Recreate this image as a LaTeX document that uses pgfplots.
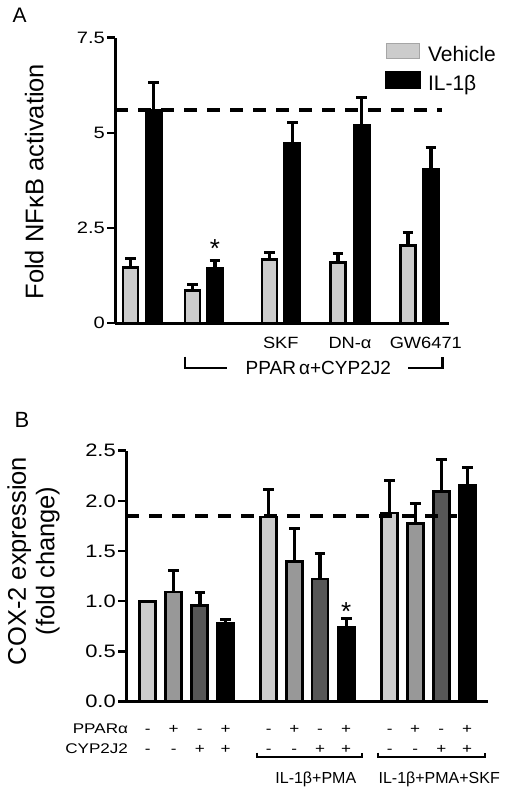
\documentclass[border=0pt]{standalone}
\usepackage{fontspec}
\setmainfont{Liberation Sans}
\newfontfamily\wa[FakeStretch=1.22]{Liberation Sans}
\newfontfamily\wb[FakeStretch=1.12]{Liberation Sans}
\usepackage{pgfplots}
\pgfplotsset{compat=1.18}
\definecolor{lg}{HTML}{CCCCCC}
\definecolor{mg}{HTML}{989898}
\definecolor{dg}{HTML}{575757}
\newcommand{\fs}[1]{\fontsize{#1}{#1}\selectfont}
\pgfplotsset{
  base/.style={
    scale only axis, anchor=south west, clip=false,
    axis x line=bottom, axis y line=left,
    axis line style={-, line width=3pt, black},
    xtick=\empty,
    tick align=outside, major tick length=8pt,
    ytick style={line width=2.4pt, black},
    yticklabel style={inner sep=2pt},
  },
  barst/.style={ybar, bar shift=0pt, draw=black, line width=2.7pt,
    error bars/y dir=plus, error bars/y explicit,
    error bars/error bar style={line width=3.4pt, black},
    error bars/error mark options={rotate=90, line width=3pt, mark size=5.3pt, black}},
  dline/.style={black, line width=4pt, dash pattern=on 13pt off 10pt, forget plot},
}
\begin{document}
\begin{tikzpicture}[x=1pt,y=1pt]
\useasboundingbox (0,0) rectangle (509,791);
% ---------------- Panel A ----------------
\begin{axis}[base,
  at={(115pt,467.7pt)}, width=334pt, height=285.6pt,
  xmin=115, xmax=449, ymin=0, ymax=7.5,
  bar width=15,
  ytick={0,2.5,5,7.5}, yticklabels={0,2.5,5,7.5},
  yticklabel style={font=\wa\fs{16.5}},
  ylabel={Fold NF\kern0.5pt κB activation},
  ylabel style={font=\fs{25.5}, at={(axis description cs:-0.2147,0.4958)}, anchor=base},
  legend style={at={(0.8084,0.9804)}, anchor=north west, draw=none, fill=none,
    inner sep=0pt, outer sep=0pt, row sep=4.6pt, column sep=7pt, font=\fs{21},
    nodes={inner sep=0pt, outer sep=0pt, text height=15pt, text depth=5pt}},
  legend cell align=left,
]
\addplot[fill=lg, barst,
  legend image code/.code={\filldraw[fill=lg, draw=black!35, line width=0.8pt] (0pt,-2pt) rectangle (33.3pt,13pt);}]
 coordinates {
  (130.5,1.465) +- (0,0.235)
  (192.5,0.855) +- (0,0.175)
  (269.5,1.675) +- (0,0.175)
  (338.0,1.605) +- (0,0.235)
  (408.0,2.045) +- (0,0.345)
};
\addlegendentry{Vehicle}
\addplot[fill=black, barst,
  legend image code/.code={\fill[black] (0pt,-2pt) rectangle (33.3pt,13pt);}]
 coordinates {
  (153.7,5.585) +- (0,0.735)
  (215.0,1.455) +- (0,0.205)
  (292.3,4.735) +- (0,0.525)
  (361.7,5.205) +- (0,0.735)
  (431.0,4.035) +- (0,0.575)
};
\addlegendentry{IL-1β}
\addplot[dline] coordinates {(115,5.60) (441.7,5.60)};
\node[font=\fs{26}, anchor=base] at (axis cs:215,1.72) {*};
\end{axis}
% ---------------- Panel B ----------------
\begin{axis}[base,
  at={(126pt,89.3pt)}, width=362pt, height=251pt,
  xmin=126, xmax=488, ymin=0, ymax=2.5,
  bar width=16,
  ytick={0,0.5,1,1.5,2,2.5}, yticklabels={0.0,0.5,1.0,1.5,2.0,2.5},
  yticklabel style={font=\wa\fs{18}},
  ylabel={COX-2 expression\\(fold change)},
  ylabel style={align=center, font=\fontsize{25.5}{28.3}\selectfont,
    at={(axis description cs:-0.2555,0.5606)}, anchor=center},
]
\addplot[fill=lg, barst] coordinates {
  (147.8,1.000) +- (0,0)
  (268.7,1.840) +- (0,0.270)
  (389.7,1.879) +- (0,0.320)
};
\addplot[fill=mg, barst] coordinates {
  (173.7,1.093) +- (0,0.217)
  (294.3,1.397) +- (0,0.331)
  (415.2,1.773) +- (0,0.201)
};
\addplot[fill=dg, barst] coordinates {
  (199.8,0.957) +- (0,0.134)
  (320.0,1.222) +- (0,0.257)
  (441.3,2.095) +- (0,0.314)
};
\addplot[fill=black, barst] coordinates {
  (225.5,0.777) +- (0,0.038)
  (346.2,0.744) +- (0,0.088)
  (467.2,2.152) +- (0,0.180)
};
\addplot[dline] coordinates {(126,1.85) (457,1.85)};
\node[font=\fs{26}, anchor=base] at (axis cs:346.2,0.805) {*};
\end{axis}
% ---------------- annotations ----------------
\node[font=\fs{21}, anchor=base west] at (9,768) {A};
\node[font=\fs{22}, anchor=base west] at (11,363) {B};
% panel A category labels
\node[font=\wb\fs{16.3}, anchor=base] at (280.8,442.7) {SKF};
\node[font=\wb\fs{16.3}, anchor=base] at (350,442.7) {DN-α};
\node[font=\wb\fs{16.3}, anchor=base] at (425.8,442.7) {GW6471};
\node[font=\fs{19}, anchor=base] at (318.3,416.7) {PPAR\,α+CYP2J2};
\draw[line width=2.4pt] (185,434.3) -- (185,422.7) -- (226.7,422.7);
\draw[line width=2.4pt] (408.3,422.7) -- (442.3,422.7) -- (442.3,434.3);
% panel B condition rows
\node[font=\wa\fs{14}, anchor=base east] at (131.5,57.7) {PPARα};
\node[font=\wa\fs{14}, anchor=base east] at (131.5,37.7) {CYP2J2};
\foreach \x/\p/\c in {147.8/-/-, 173.7/+/-, 199.8/-/+, 225.5/+/+,
                      268.7/-/-, 294.3/+/-, 320.0/-/+, 346.2/+/+,
                      389.7/-/-, 415.2/+/-, 441.3/-/+, 467.2/+/+}{
  \node[font=\wa\fs{14}, anchor=base] at (\x,57.7) {\p};
  \node[font=\wa\fs{14}, anchor=base] at (\x,37.7) {\c};
}
\draw[line width=2.2pt] (256.7,38.3) -- (256.7,33.7) -- (361.7,33.7) -- (361.7,38.3);
\draw[line width=2.2pt] (378.3,38.3) -- (378.3,33.7) -- (485,33.7) -- (485,38.3);
\node[font=\fs{16}, anchor=base] at (315.8,7.7) {IL-1β+PMA};
\node[font=\fs{16}, anchor=base] at (439.2,7.7) {IL-1β+PMA+SKF};
\end{tikzpicture}
\end{document}
